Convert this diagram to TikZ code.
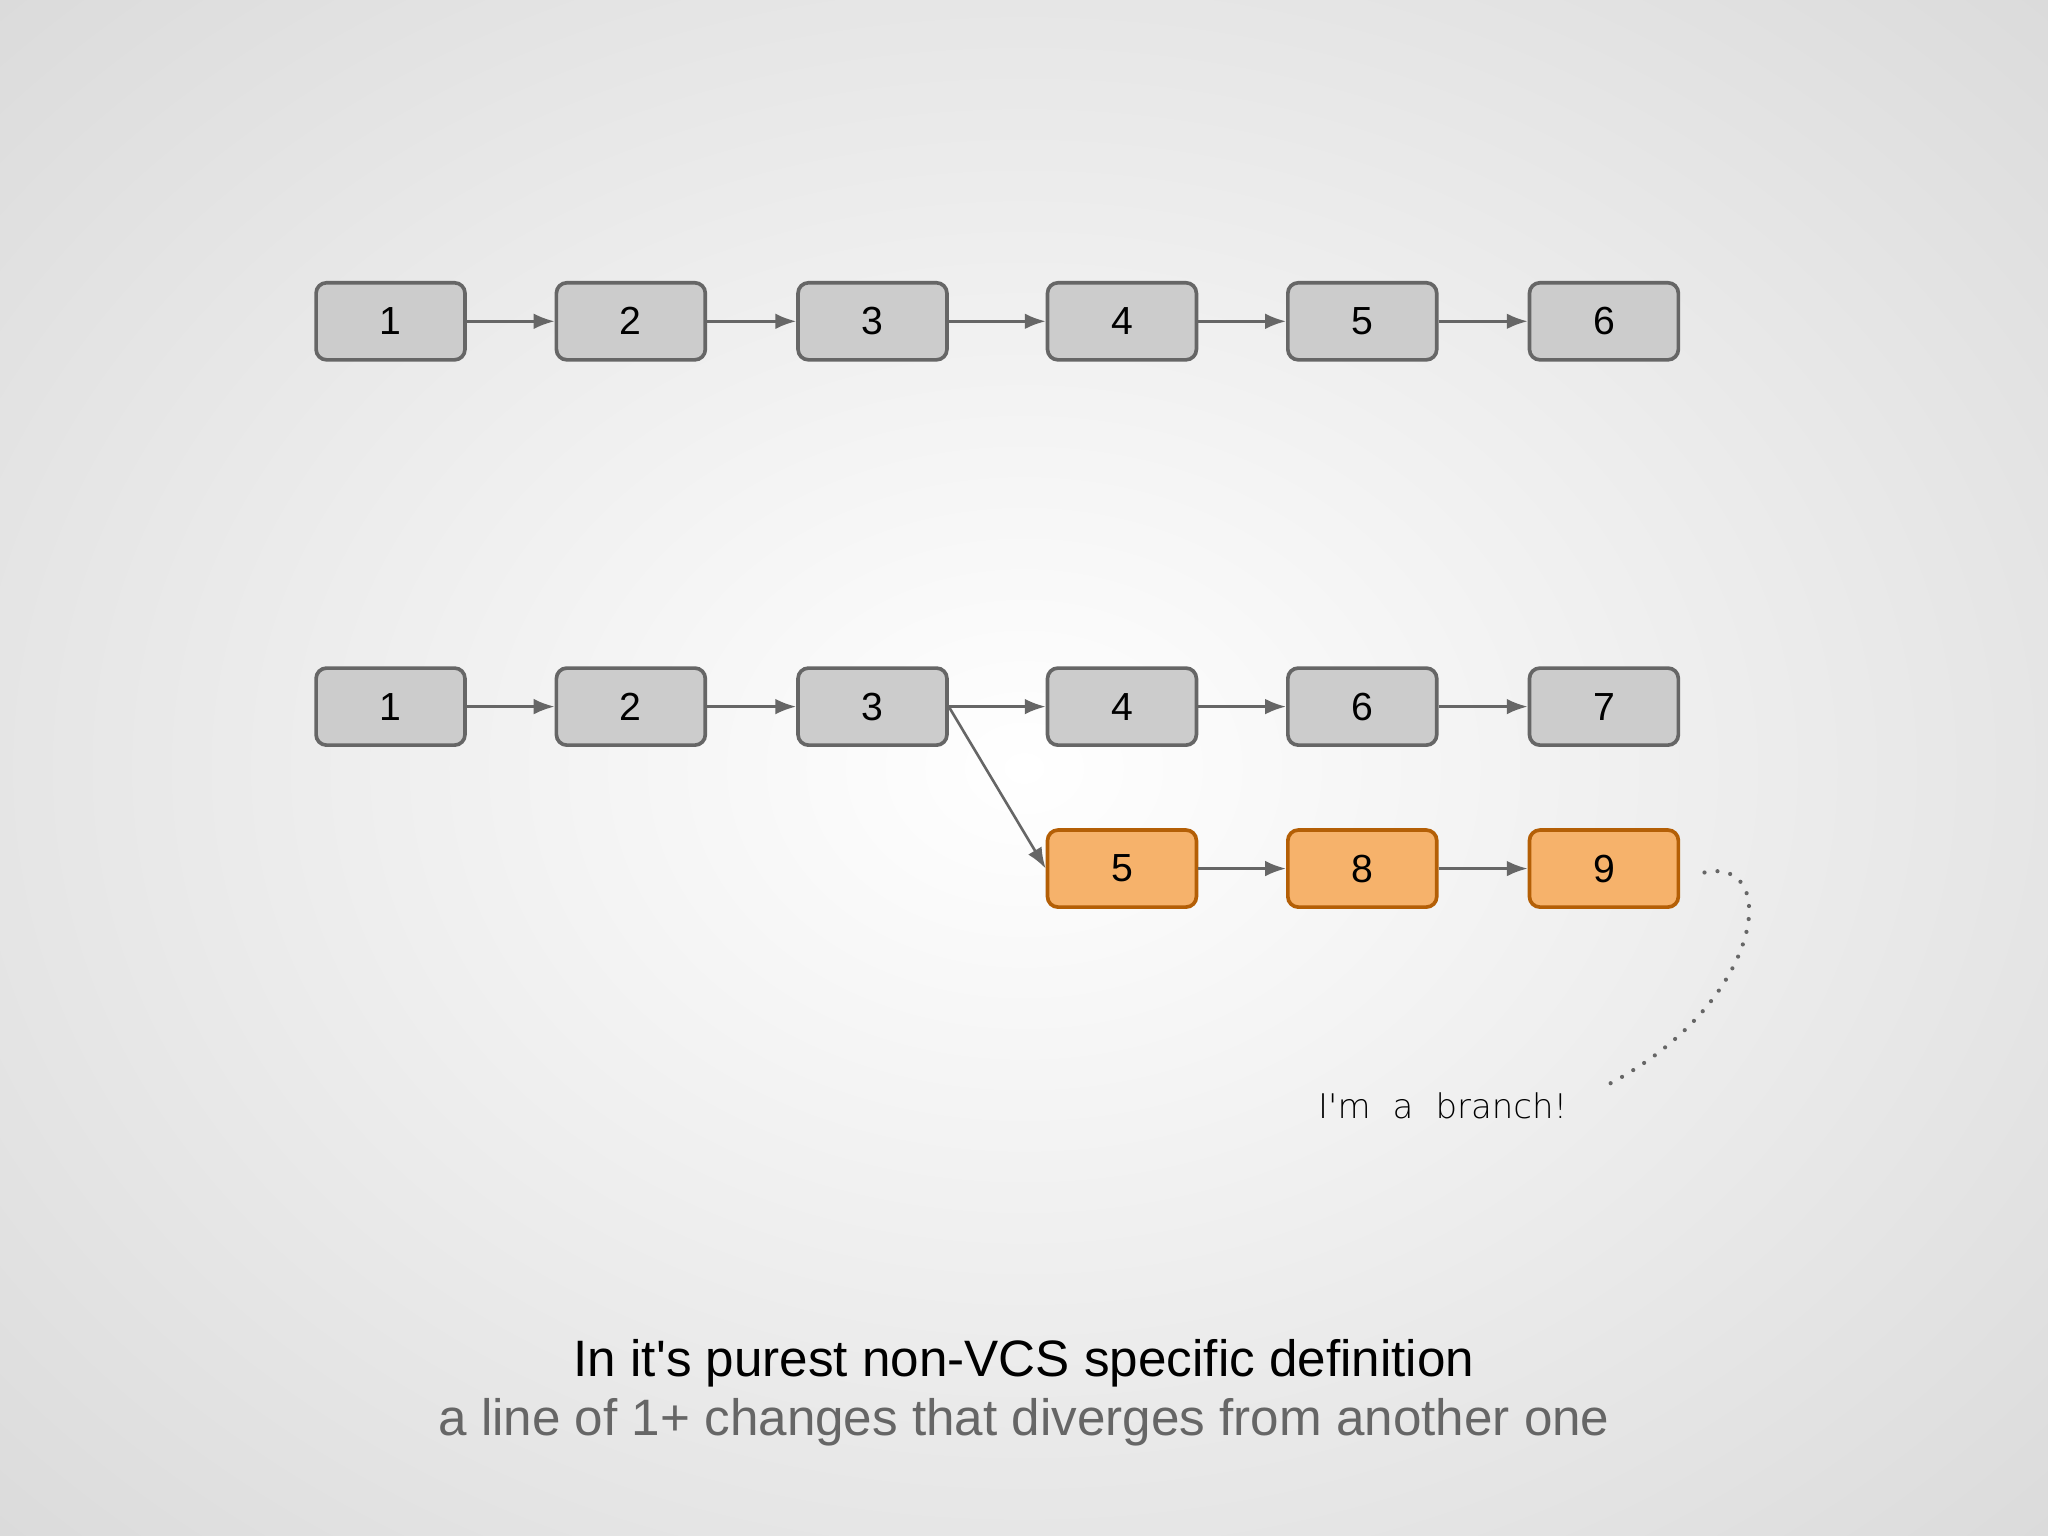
\documentclass[tikz,border=0pt]{standalone}
\usepackage{fontspec}
\setmainfont{Liberation Sans}
\usetikzlibrary{arrows.meta}
\definecolor{bxg}{HTML}{CCCCCC}
\definecolor{bdg}{HTML}{666666}
\definecolor{bxo}{HTML}{F6B26B}
\definecolor{bdo}{HTML}{B45F06}
\tikzset{
  commit/.style={draw=bdg,fill=bxg,line width=1.4pt,rounded corners=4pt,minimum width=57pt,minimum height=29.5pt,inner sep=0pt,font=\fontsize{15}{17}\selectfont},
  bcommit/.style={commit,draw=bdo,fill=bxo},
  link/.style={draw=bdg,line width=1pt,-{Latex[length=8pt,width=6pt]}}
}
\begin{document}
\begin{tikzpicture}[x=0.5pt,y=-0.5pt]
\useasboundingbox (0,0) rectangle (1568,1176);
\shade[inner color=white,outer color=black!14] (-300,-250) rectangle (1868,1426);
\clip (0,0) rectangle (1568,1176);
\foreach \n/\x [count=\i] in {1/299,2/483,3/668,4/859,5/1043,6/1228}
  \node[commit] (t\i) at (\x,246) {\n};
\foreach \a/\b in {1/2,2/3,3/4,4/5,5/6} \draw[link] (t\a) -- (t\b);
\node[commit] (b1) at (299,541) {1};
\node[commit] (b2) at (483,541) {2};
\node[commit] (b3) at (668,541) {3};
\node[commit] (b4) at (859,541) {4};
\node[commit] (b6) at (1043,541) {6};
\node[commit] (b7) at (1228,541) {7};
\node[bcommit] (o5) at (859,665) {5};
\node[bcommit] (o8) at (1043,665) {8};
\node[bcommit] (o9) at (1228,665) {9};
\draw[link] (b1) -- (b2);
\draw[link] (b2) -- (b3);
\draw[link] (b3) -- (b4);
\draw[link] (b4) -- (b6);
\draw[link] (b6) -- (b7);
\draw[link] (b3.east) -- (o5.west);
\draw[link] (o5) -- (o8);
\draw[link] (o8) -- (o9);
\coordinate (d0) at (1305,668);
\coordinate (d1) at (1228,832);
\draw[bdg,line width=1.6pt,dash pattern=on 0pt off 5pt,line cap=round] (d0) .. controls (1365,655) and (1350,770) .. (d1);
\node[font=\fontsize{13}{15}\selectfont\fontspec{DejaVu Sans ExtraLight},text=black, anchor=east] (lbl) at (1207,847) {I\textquotesingle m\,\, a\,\, branch!};
\node[font=\fontsize{19.6}{23}\selectfont] (h1) at (784,1044) {In it\textquotesingle s purest non-VCS specific definition};
\node[font=\fontsize{19.6}{23}\selectfont,text=bdg] (h2) at (784,1089) {a line of 1+ changes that diverges from another one};
\end{tikzpicture}
\end{document}
